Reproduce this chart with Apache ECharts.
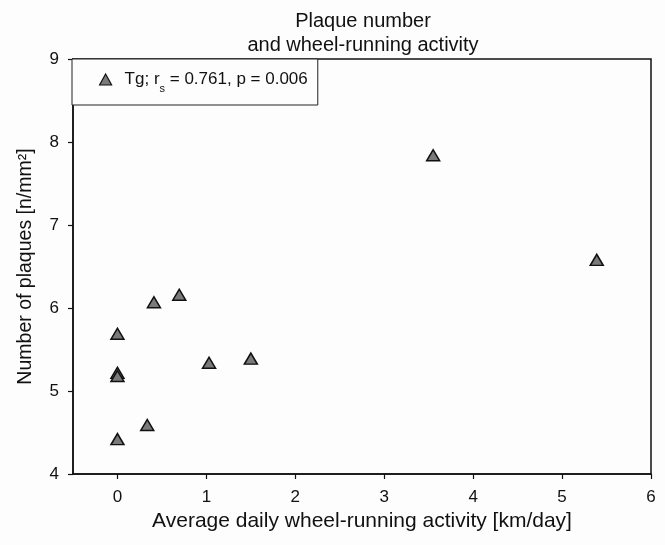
<!DOCTYPE html>
<html>
<head>
<meta charset="utf-8">
<script src="https://cdn.jsdelivr.net/npm/echarts@6/dist/echarts.min.js"></script>
<style>html,body{margin:0;padding:0;background:#fdfdfd}#c{width:665px;height:545px}</style>
</head>
<body>
<div id="c"></div>
<script>
const activityKm = [0, 0, 0, 0, 0.335, 0.41, 0.695, 1.03, 1.50, 3.55, 5.39];
const plaques = [5.69, 5.22, 5.18, 4.42, 4.59, 6.07, 6.16, 5.34, 5.39, 7.84, 6.58];
const xTicks = [0, 1, 2, 3, 4, 5, 6];
const yTicks = [4, 5, 6, 7, 8, 9];
const seriesName = 'Tg';
const titleLines = ['Plaque number', 'and wheel-running activity'];

const font = 'Liberation Sans, Arial, sans-serif';
const chart = echarts.init(document.getElementById('c'), null, {renderer: 'canvas'});
chart.setOption({
  backgroundColor: '#fdfdfd',
  animation: false,
  title: {
    text: titleLines.join('\n'),
    left: 358, textAlign: 'center', top: 4,
    textStyle: {fontFamily: font, fontSize: 20, fontWeight: 'normal', color: '#111', lineHeight: 24, align: 'center'}
  },
  grid: {left: 73, right: 14, top: 59, bottom: 71, show: true, borderColor: '#111', borderWidth: 1.5, backgroundColor: 'transparent'},
  legend: {
    left: 72, top: 59,
    orient: 'vertical',
    backgroundColor: '#fdfdfd',
    borderColor: '#222', borderWidth: 1,
    padding: [12, 10, 11, 27],
    itemWidth: 12, itemHeight: 11,
    data: [{name: seriesName, icon: 'triangle', itemStyle: {color: '#7a7a7a', borderColor: '#111', borderWidth: 1.2}}],
    formatter: () => '{a|Tg; r}{s|s}{b| = 0.761, p = 0.006}',
    textStyle: {
      fontFamily: font, fontSize: 17, color: '#111',
      rich: {
        a: {fontFamily: font, fontSize: 17, color: '#111', padding: [0, 0, 0, 8]},
        s: {fontFamily: font, fontSize: 11, color: '#111', verticalAlign: 'bottom', padding: [0, 0, -6, 0]},
        b: {fontFamily: font, fontSize: 17, color: '#111'}
      }
    }
  },
  xAxis: {
    type: 'value', min: -0.5, max: 6, interval: 1,
    name: 'Average daily wheel-running activity [km/day]',
    nameLocation: 'middle', nameGap: 36,
    nameTextStyle: {fontFamily: font, fontSize: 21, color: '#111'},
    axisLine: {show: true, onZero: false, lineStyle: {color: '#111', width: 1.5}},
    axisTick: {show: true, length: 5, lineStyle: {color: '#111', width: 1.2}, customValues: xTicks},
    axisLabel: {fontFamily: font, fontSize: 17, color: '#111', margin: 15, customValues: xTicks},
    splitLine: {show: false}
  },
  yAxis: {
    type: 'value', min: 4, max: 9, interval: 1,
    name: 'Number of plaques [n/mm²]',
    nameLocation: 'middle', nameGap: 37,
    nameTextStyle: {fontFamily: font, fontSize: 19.5, color: '#111'},
    axisLine: {show: true, onZero: false, lineStyle: {color: '#111', width: 1.5}},
    axisTick: {show: true, length: 5, lineStyle: {color: '#111', width: 1.2}, customValues: yTicks},
    axisLabel: {fontFamily: font, fontSize: 17, color: '#111', margin: 14, customValues: yTicks},
    splitLine: {show: false}
  },
  series: [{
    name: seriesName,
    type: 'scatter',
    symbol: 'triangle',
    symbolSize: [13, 11],
    itemStyle: {color: '#7a7a7a', borderColor: '#111', borderWidth: 1.5, opacity: 1},
    data: activityKm.map((x, i) => [x, plaques[i]])
  }]
});
</script>
</body>
</html>
